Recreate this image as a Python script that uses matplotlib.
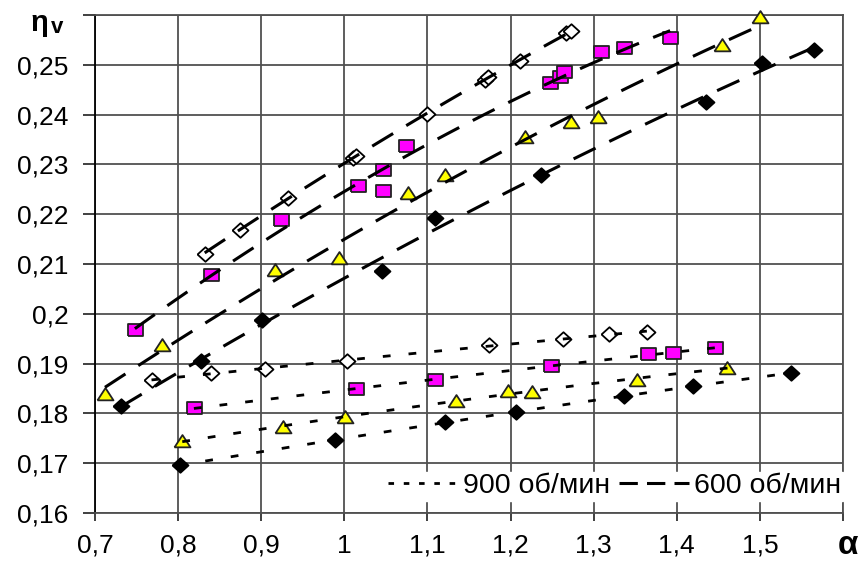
import numpy as np
import matplotlib
matplotlib.use('Agg')
import matplotlib.pyplot as plt
from matplotlib.lines import Line2D

plt.rcParams['font.family'] = ['Liberation Sans', 'DejaVu Sans']

# 600 об/мин (upper group, dashed trend lines)
alpha_600_open = [0.832, 0.874, 0.932, 1.010, 1.014, 1.099, 1.169, 1.173, 1.211, 1.267, 1.273]
eta_600_open = [0.2121, 0.2169, 0.2233, 0.2313, 0.2316, 0.2401, 0.2470, 0.2475, 0.2508, 0.2563, 0.2567]
alpha_600_sq = [0.748, 0.839, 0.924, 1.017, 1.047, 1.047, 1.074, 1.247, 1.259, 1.264, 1.309, 1.336, 1.392]
eta_600_sq = [0.1967, 0.2078, 0.2189, 0.2257, 0.2289, 0.2247, 0.2336, 0.2463, 0.2475, 0.2486, 0.2526, 0.2533, 0.2553]
alpha_600_tri = [0.712, 0.781, 0.916, 0.994, 1.077, 1.121, 1.217, 1.273, 1.305, 1.455, 1.500]
eta_600_tri = [0.1838, 0.1937, 0.2088, 0.2112, 0.2243, 0.2279, 0.2356, 0.2386, 0.2396, 0.2540, 0.2596]
alpha_600_blk = [0.731, 0.828, 0.901, 1.045, 1.109, 1.237, 1.435, 1.503, 1.565]
eta_600_blk = [0.1815, 0.1905, 0.1987, 0.2086, 0.2193, 0.2279, 0.2426, 0.2503, 0.2530]

# 900 об/мин (lower group, dotted trend lines)
alpha_900_open = [0.768, 0.840, 0.904, 1.003, 1.174, 1.263, 1.318, 1.364]
eta_900_open = [0.1867, 0.1881, 0.1890, 0.1905, 0.1937, 0.1949, 0.1959, 0.1964]
alpha_900_sq = [0.819, 1.014, 1.109, 1.249, 1.365, 1.395, 1.446]
eta_900_sq = [0.1810, 0.1850, 0.1868, 0.1895, 0.1919, 0.1922, 0.1931]
alpha_900_tri = [0.805, 0.926, 1.001, 1.134, 1.197, 1.226, 1.352, 1.461]
eta_900_tri = [0.1745, 0.1772, 0.1792, 0.1825, 0.1845, 0.1843, 0.1867, 0.1892]
alpha_900_blk = [0.802, 0.989, 1.121, 1.206, 1.337, 1.420, 1.537]
eta_900_blk = [0.1696, 0.1746, 0.1783, 0.1802, 0.1835, 0.1855, 0.1881]

x_ticks = [0.7, 0.8, 0.9, 1.0, 1.1, 1.2, 1.3, 1.4, 1.5, 1.6]
x_labels = ['0,7', '0,8', '0,9', '1', '1,1', '1,2', '1,3', '1,4', '1,5', '']
y_ticks = [0.16, 0.17, 0.18, 0.19, 0.20, 0.21, 0.22, 0.23, 0.24, 0.25, 0.26]
y_labels = ['0,16', '0,17', '0,18', '0,19', '0,2', '0,21', '0,22', '0,23', '0,24', '0,25', '']
legend_labels = ['900 об/мин', '600 об/мин']

W, H = 862, 561
fig = plt.figure(figsize=(W / 100, H / 100), dpi=100)
ax = fig.add_axes([95 / W, 1 - 513 / H, 748 / W, 498 / H])

# markers slightly wider than tall, like the stretched original
sq_marker = [(-1.25, -1), (1.25, -1), (1.25, 1), (-1.25, 1), (-1.25, -1)]
tri_marker = [(-1.3, -0.95), (1.3, -0.95), (0, 1.05), (-1.3, -0.95)]
dia_marker = [(-1.1, 0), (0, 1), (1.1, 0), (0, -1), (-1.1, 0)]

styles = [
    dict(marker=dia_marker, markersize=11.5, markerfacecolor='white', markeredgecolor='black'),
    dict(marker=sq_marker, markersize=10.8, markerfacecolor='#ff00ff', markeredgecolor='#222222'),
    dict(marker=tri_marker, markersize=11.5, markerfacecolor='#ffff00', markeredgecolor='#222222'),
    dict(marker=dia_marker, markersize=11.5, markerfacecolor='black', markeredgecolor='black'),
]

dash_600 = (8, 5)
dash_900 = (2.8, 6.5)

groups = [
    ([(alpha_600_open, eta_600_open), (alpha_600_sq, eta_600_sq),
      (alpha_600_tri, eta_600_tri), (alpha_600_blk, eta_600_blk)], dash_600, 2.2),
    ([(alpha_900_open, eta_900_open), (alpha_900_sq, eta_900_sq),
      (alpha_900_tri, eta_900_tri), (alpha_900_blk, eta_900_blk)], dash_900, 2.0),
]

for series, dashes, lw in groups:
    for (xs, ys), st in zip(series, styles):
        ax.plot(xs, ys, linestyle='none', markeredgewidth=1.3, zorder=3, clip_on=False, **st)
        # Excel-like polynomial trend line over the data range
        coef = np.polyfit(xs, ys, 2)
        xf = np.linspace(min(xs), max(xs), 100)
        ax.plot(xf, np.polyval(coef, xf), color='black', lw=lw, dashes=dashes, zorder=4)

ax.set_xlim(0.7, 1.6)
ax.set_ylim(0.16, 0.26)
ax.set_xticks(x_ticks)
ax.set_xticklabels(x_labels)
ax.set_yticks(y_ticks)
ax.set_yticklabels(y_labels)
ax.grid(True, color='#505050', lw=1.3, zorder=0)
ax.set_axisbelow(True)
for s in ax.spines.values():
    s.set_color('#505050')
    s.set_linewidth(1.3)
ax.spines['left'].set_color('black')
ax.tick_params(axis='x', direction='out', length=6, width=1.3, color='#303030', pad=9, labelsize=19)
ax.tick_params(axis='y', direction='out', length=9, width=1.3, color='#303030', pad=10, labelsize=19)

handles = [Line2D([], [], color='black', lw=2.0, dashes=(2.0, 3.5)),
           Line2D([], [], color='black', lw=2.2, dashes=(6, 3))]
leg = ax.legend(handles, legend_labels, loc='lower right', bbox_to_anchor=(1.0, 0.025),
                ncol=2, fontsize=20.5, frameon=True, fancybox=False, framealpha=1,
                edgecolor='white', facecolor='white', handlelength=2.45,
                handletextpad=0.2, columnspacing=0.3, borderpad=0.05, borderaxespad=0)
leg.set_zorder(5)

fig.text(31 / W, 1 - 31 / H, 'η', fontsize=21, fontweight='bold', ha='left', va='baseline')
fig.text(51 / W, 1 - 33 / H, 'v', fontsize=16, fontweight='bold', ha='left', va='baseline')
fig.text(848 / W, 1 - 545 / H, 'α', fontsize=24, fontweight='bold', ha='center', va='center')

fig.savefig('out.png', dpi=100)
